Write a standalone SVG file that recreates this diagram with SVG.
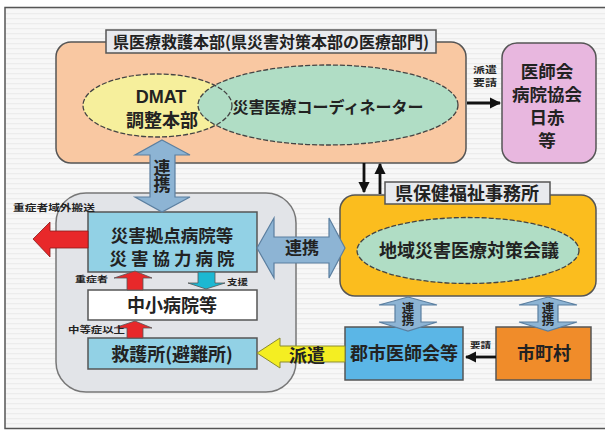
<svg xmlns="http://www.w3.org/2000/svg" width="605" height="431" viewBox="0 0 605 431">
<defs>
<pattern id="stripes" width="8" height="5" patternUnits="userSpaceOnUse">
<rect width="8" height="5" fill="#f7f7f7"/>
<rect y="3" width="8" height="1.2" fill="#ececec"/>
</pattern>
<marker id="ah" viewBox="0 0 10 10" refX="9" refY="5" markerWidth="4" markerHeight="4" orient="auto-start-reverse">
<path d="M0,0 L10,5 L0,10 z" fill="#111"/>
</marker>
<style>
text{font-family:"Noto Sans CJK JP","Noto Sans CJK SC",sans-serif;font-weight:bold;fill:#222;text-anchor:middle}
.box{stroke:#555;stroke-width:1.5}
.lbl{fill:#e8eaee;stroke:#555;stroke-width:1.5}
.ell{stroke:#444;stroke-width:1.3;stroke-dasharray:5 2}
.blue{fill:#8db4d4;stroke:#5b7fa0;stroke-width:1.2}
.vt{writing-mode:vertical-rl}
.blk{stroke:#111;stroke-width:2.8;fill:none}
</style>
</defs>
<rect width="605" height="431" fill="#ffffff"/>
<rect x="5" y="7.5" width="605" height="421" fill="url(#stripes)" stroke="#555" stroke-width="1.5"/>

<g id="left-region">
<rect x="56" y="193" width="240" height="199" rx="30" fill="#e2e4e8" stroke="#777" stroke-width="1.5"/>
</g>

<g id="hq">
<rect x="56" y="42" width="410" height="121" rx="15" class="box" fill="#f9c8a2"/>
<rect x="106" y="30" width="330" height="23" class="lbl"/>
<text x="271" y="48" font-size="16">県医療救護本部(県災害対策本部の医療部門)</text>
</g>
<g id="dmat">
<ellipse cx="157.5" cy="105.5" rx="74.5" ry="31.5" fill="#f6ef9c"/>
</g>
<g id="coordinator">
<ellipse cx="328" cy="105" rx="130" ry="40" fill="#b0ddc5" class="ell"/>
<ellipse cx="157.5" cy="105.5" rx="74.5" ry="31.5" fill="none" class="ell"/>
<text x="161" y="103" font-size="18" style="font-family:'Liberation Sans',Arial,sans-serif">DMAT</text>
<text x="162" y="127" font-size="18">調整本部</text>
<text x="328" y="113" font-size="16">災害医療コーディネーター</text>
</g>

<g id="support-orgs">
<rect x="502" y="43" width="94" height="120" rx="15" class="box" fill="#e8b7df"/>
<text x="547" y="78" font-size="17.5">医師会</text>
<text x="547" y="101" font-size="17.5">病院協会</text>
<text x="547" y="124" font-size="17.5">日赤</text>
<text x="547" y="147" font-size="17.5">等</text>
</g>

<g id="health-office">
<rect x="340" y="195" width="256" height="101" rx="15" class="box" fill="#fbbd1e"/>
<rect x="385" y="182" width="165" height="22" class="lbl"/>
<text x="467" y="200" font-size="18">県保健福祉事務所</text>
<ellipse cx="468" cy="250.5" rx="111" ry="33" fill="#b0ddc5" class="ell"/>
<text x="469" y="257" font-size="18">地域災害医療対策会議</text>
</g>

<g id="base-hospital">
<rect x="88" y="212" width="169" height="60" class="box" fill="#92d1e5"/>
<text x="172" y="241.5" font-size="17.5">災害拠点病院等</text>
<text x="174" y="264.5" font-size="17.5" letter-spacing="4">災害協力病院</text>
</g>
<g id="small-hospital">
<rect x="88" y="290" width="169" height="30" class="box" fill="#ffffff"/>
<text x="172" y="312" font-size="18">中小病院等</text>
</g>
<g id="aid-station">
<rect x="88" y="338" width="169" height="31" class="box" fill="#92d1e5"/>
<text x="172" y="361" font-size="18">救護所(避難所)</text>
</g>
<g id="medical-assoc">
<rect x="345" y="327" width="118" height="53" class="box" fill="#5bb6e6"/>
<text x="404" y="360" font-size="18">郡市医師会等</text>
</g>
<g id="municipality">
<rect x="496" y="327" width="95" height="53" class="box" fill="#f08c2a"/>
<text x="544" y="360" font-size="18">市町村</text>
</g>

<g id="connectors">
<polygon class="blue" points="162,140 190,155 175,155 175,197 190,197 162,212 135,197 150,197 150,155 135,155"/>
<text x="162" y="176" font-size="17" class="vt">連携</text>
<polygon class="blue" points="257,248 274,218 274,237 329,237 329,218 345,248 329,278 329,263 274,263 274,278"/>
<text x="302" y="254" font-size="17">連携</text>
<polygon points="33,239 50,222 50,231 88,231 88,248 50,248 50,257" fill="#e8282a" stroke="#8a1a1a" stroke-width="0.8"/>
<text transform="translate(54,211) scale(0.5,0.38)" font-size="23.4">重症者域外搬送</text>
<polygon points="127,290 127,278 114,278 135,271 152,278 143,278 143,290" fill="#e8282a" stroke="#555" stroke-width="0.8"/>
<text transform="translate(91.5,282) scale(0.5,0.38)" font-size="22">重症者</text>
<polygon points="127,338 127,328 114,328 135,321 152,328 143,328 143,338" fill="#e8282a" stroke="#555" stroke-width="0.8"/>
<text transform="translate(96.5,333) scale(0.5,0.38)" font-size="22.8">中等症以上</text>
<polygon points="198,272 215,272 215,283 225,283 206,289 188,283 198,283" fill="#1cb8d2" stroke="#555" stroke-width="0.8"/>
<text transform="translate(237.5,285) scale(0.5,0.38)" font-size="21">支援</text>
<polygon points="257,353 280,338 280,346 345,346 345,362 280,362 280,368" fill="#f4ee22" stroke="#8a8a30" stroke-width="1"/>
<text x="307" y="362" font-size="18">派遣</text>
<line x1="467" y1="103" x2="500" y2="103" class="blk" marker-end="url(#ah)"/>
<text transform="translate(485,72.5) scale(0.5,0.36)" font-size="24">派遣</text>
<text transform="translate(485,85.5) scale(0.5,0.36)" font-size="24">要請</text>
<line x1="364" y1="163" x2="364" y2="192" class="blk" marker-end="url(#ah)"/>
<line x1="380" y1="194" x2="380" y2="164" class="blk" marker-end="url(#ah)"/>
<line x1="496" y1="357" x2="466" y2="357" class="blk" marker-end="url(#ah)"/>
<text transform="translate(480.5,348) scale(0.5,0.38)" font-size="21">要請</text>
<polygon class="blue" points="408,297 437,305 421,305 421,322 437,322 408,331 379,322 395,322 395,305 379,305"/>
<text x="408" y="314" font-size="12.5" class="vt">連携</text>
<polygon class="blue" points="548,297 577,305 558,305 558,322 577,322 548,331 519,322 538,322 538,305 519,305"/>
<text x="548" y="314" font-size="12.5" class="vt">連携</text>
</g>
</svg>
